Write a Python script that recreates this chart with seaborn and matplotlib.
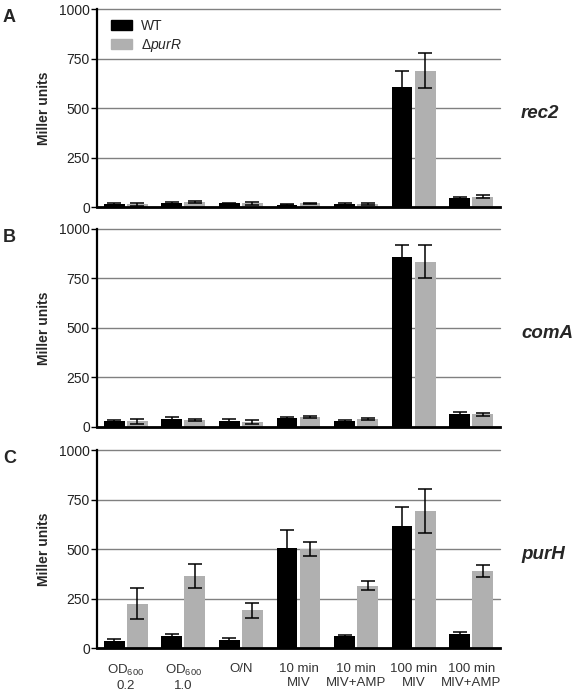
import numpy as np
import pandas as pd
import seaborn as sns
import matplotlib.pyplot as plt
from matplotlib.patches import Patch

# Conditions on the x axis
conditions = ["OD600 0.2", "OD600 1.0", "O/N", "10 min MIV", "10 min MIV+AMP",
              "100 min MIV", "100 min MIV+AMP"]
tick_labels = ["OD$_{600}$\n0.2", "OD$_{600}$\n1.0", "O/N", "10 min\nMIV",
               "10 min\nMIV+AMP", "100 min\nMIV", "100 min\nMIV+AMP"]
strains = ["WT", "purR"]

# rec2 (panel A)
rec2_wt = [15, 20, 18, 12, 15, 608, 44]
rec2_wt_err = [5, 4, 4, 3, 4, 77, 5]
rec2_pur = [15, 25, 18, 18, 15, 688, 52]
rec2_pur_err = [8, 6, 10, 4, 5, 88, 8]

# comA (panel B)
coma_wt = [30, 42, 30, 45, 30, 857, 65]
coma_wt_err = [5, 10, 8, 5, 5, 64, 12]
coma_pur = [28, 33, 25, 50, 38, 835, 65]
coma_pur_err = [12, 5, 12, 5, 5, 82, 8]

# purH (panel C)
purh_wt = [38, 59, 42, 507, 62, 618, 71]
purh_wt_err = [8, 10, 8, 90, 5, 92, 8]
purh_pur = [224, 362, 190, 500, 315, 693, 390]
purh_pur_err = [78, 60, 36, 35, 22, 110, 30]

panels = [
    ("A", "rec2", rec2_wt, rec2_wt_err, rec2_pur, rec2_pur_err),
    ("B", "comA", coma_wt, coma_wt_err, coma_pur, coma_pur_err),
    ("C", "purH", purh_wt, purh_wt_err, purh_pur, purh_pur_err),
]

sns.set_theme(style="white")
plt.rcParams["font.family"] = ["Liberation Sans", "DejaVu Sans"]
plt.rcParams["mathtext.fontset"] = "custom"
plt.rcParams["mathtext.rm"] = "Liberation Sans"
plt.rcParams["mathtext.it"] = "Liberation Sans:italic"

palette = {"WT": "black", "purR": "#b0b0b0"}

fig = plt.figure(figsize=(5.77, 6.96), dpi=100)
tops = [0.987, 0.671, 0.3534]
height = 0.2845
left, width = 0.168, 0.6986

for i, (letter, gene, wt, wt_err, pur, pur_err) in enumerate(panels):
    ax = fig.add_axes([left, tops[i] - height, width, height])
    df = pd.DataFrame({
        "condition": conditions * 2,
        "strain": ["WT"] * 7 + ["purR"] * 7,
        "value": wt + pur,
    })
    sns.barplot(data=df, x="condition", y="value", hue="strain", order=conditions,
                hue_order=strains, palette=palette, errorbar=None, width=0.8,
                gap=0.1, legend=False, ax=ax, linewidth=0, saturation=1)
    errs = [wt_err, pur_err]
    means = [wt, pur]
    bar_conts = list(ax.containers)
    for c, cont in enumerate(bar_conts):
        xs = [b.get_x() + b.get_width() / 2 for b in cont.patches]
        ax.errorbar(xs, means[c], yerr=errs[c], fmt="none", ecolor="black",
                    elinewidth=1.1, capsize=5, capthick=1.1, zorder=3)

    ax.set_xlim(-0.5, 6.5)
    ax.set_ylim(0, 1000)
    ax.set_yticks([0, 250, 500, 750, 1000])
    ax.yaxis.grid(True, color="#808080", linewidth=1.0, clip_on=False)
    ax.set_axisbelow(True)
    for s in ["top", "right"]:
        ax.spines[s].set_visible(False)
    ax.spines["left"].set_linewidth(1.6)
    ax.spines["bottom"].set_linewidth(2.0)
    ax.spines["left"].set_color("black")
    ax.spines["bottom"].set_color("black")
    ax.tick_params(axis="y", left=True, length=4, width=1, color="black",
                   labelsize=10, labelcolor="#222222", pad=1)
    ax.tick_params(axis="x", bottom=False, labelsize=9.5, labelcolor="#333333", pad=5)
    ax.set_xlabel("")
    ax.set_ylabel("Miller units", fontsize=10, fontweight="bold", labelpad=6)
    if i < 2:
        ax.set_xticklabels([])
    else:
        ax.set_xticks(range(7))
        ax.set_xticklabels(tick_labels, linespacing=1.15)

    fig.text(0.005, tops[i] - 0.0, letter, fontsize=13, fontweight="bold",
             va="top", ha="left")
    ax.text(1.052, 0.47, gene, transform=ax.transAxes, fontsize=13.5,
            fontweight="bold", fontstyle="italic", va="center", ha="left")

    if i == 0:
        handles = [Patch(color="black"), Patch(color="#b0b0b0")]
        ax.legend(handles, ["WT", "Δ$\\it{purR}$"], loc="upper left",
                  bbox_to_anchor=(0.01, 1.0), frameon=False, fontsize=10,
                  handlelength=1.5, handleheight=0.8, handletextpad=0.7,
                  labelspacing=0.3, borderaxespad=0.3)

fig.savefig("out.png", dpi=100)
